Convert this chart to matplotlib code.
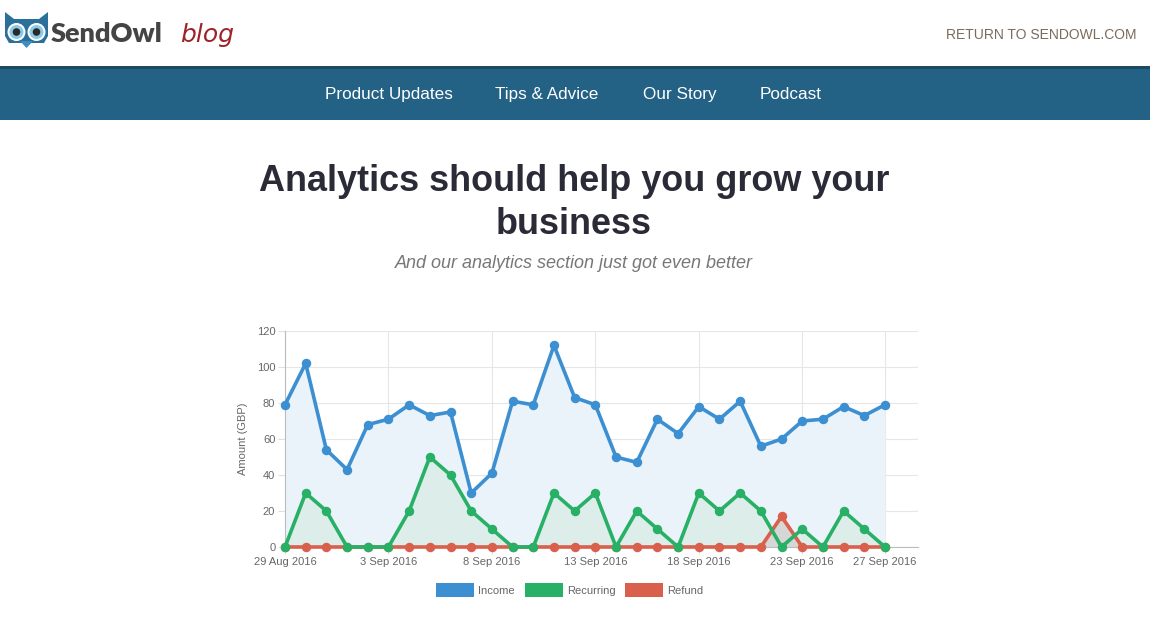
import matplotlib
matplotlib.use("Agg")
import matplotlib.pyplot as plt
from matplotlib.patches import Rectangle, Polygon, Circle

# ---------------- data ----------------
tick_labels = ["29 Aug 2016", "3 Sep 2016", "8 Sep 2016", "13 Sep 2016",
               "18 Sep 2016", "23 Sep 2016", "27 Sep 2016"]
tick_days = [0, 5, 10, 15, 20, 25, 29]
income = [79, 102, 54, 43, 68, 71, 79, 73, 75, 30, 41, 81, 79, 112, 83,
          79, 50, 47, 71, 63, 78, 71, 81, 56, 60, 70, 71, 78, 73, 79]
recurring = [0, 30, 20, 0, 0, 0, 20, 50, 40, 20, 10, 0, 0, 30, 20,
             30, 0, 20, 10, 0, 30, 20, 30, 20, 0, 10, 0, 20, 10, 0]
refund = [0, 0, 0, 0, 0, 0, 0, 0, 0, 0, 0, 0, 0, 0, 0,
          0, 0, 0, 0, 0, 0, 0, 0, 0, 17, 0, 0, 0, 0, 0]
series_names = ["Income", "Recurring", "Refund"]
y_ticks = [0, 20, 40, 60, 80, 100, 120]

W, H = 1150, 618
fig = plt.figure(figsize=(W / 100, H / 100), dpi=100)
fig.patch.set_facecolor("white")

# page background axes in pixel coords
bg = fig.add_axes([0, 0, 1, 1])
bg.set_xlim(0, W)
bg.set_ylim(H, 0)
bg.axis("off")

# nav bar
bg.add_patch(Rectangle((0, 66), W, 54, facecolor="#236185", edgecolor="none"))
bg.add_patch(Rectangle((0, 66), W, 2.5, facecolor="#1b4a62", edgecolor="none"))
nav = [("Product Updates", 389), ("Tips & Advice", 547), ("Our Story", 680), ("Podcast", 791)]
for t, x in nav:
    bg.text(x, 99, t, color="white", fontsize=12.3, family="Liberation Sans",
            ha="center", va="baseline")

# logo owl
owl_c = "#2b6f9b"
bg.add_patch(Polygon([(5, 12), (14, 19), (39, 19), (48, 12), (48, 36), (44, 43),
                      (9, 43), (5, 36)], closed=True, facecolor=owl_c, edgecolor="none"))
bg.add_patch(Polygon([(20, 41), (33, 41), (26.5, 48)], closed=True, facecolor="#3f8cc0", edgecolor="none"))
for cx in (16.5, 36.5):
    bg.add_patch(Circle((cx, 32), 9, facecolor="white", edgecolor="none"))
    bg.add_patch(Circle((cx, 32), 7, facecolor="#8ccbe8", edgecolor="none"))
    bg.add_patch(Circle((cx, 32), 3.8, facecolor="#2a2a2a", edgecolor="none"))
bg.text(51, 42, "SendOwl", color="#444444", fontsize=19.5, fontweight="heavy",
        family="Lato", ha="left", va="baseline")
bg.text(180, 42, "blog", color="#9e2228", fontsize=18, style="italic",
        fontweight="light", family="DejaVu Sans", ha="left", va="baseline")

bg.text(1137, 39, "RETURN TO SENDOWL.COM", color="#7b6b5c", fontsize=10,
        family="Liberation Sans", ha="right", va="baseline")

# titles
bg.text(574, 191, "Analytics should help you grow your", color="#2b2b37",
        fontsize=25.9, fontweight="bold", family="Liberation Sans", ha="center", va="baseline")
bg.text(574, 234, "business", color="#2b2b37",
        fontsize=25.9, fontweight="bold", family="Liberation Sans", ha="center", va="baseline")
bg.text(574, 268, "And our analytics section just got even better", color="#777777",
        fontsize=13, style="italic", family="Liberation Sans", ha="center", va="baseline")

# ---------------- chart ----------------
px_day = 600 / 29.0
left, right, top, bottom = 285, 918, 331, 547
ax = fig.add_axes([left / W, 1 - bottom / H, (right - left) / W, (bottom - top) / H])
ax.set_facecolor("none")
x = list(range(len(income)))
ax.set_xlim(0, (right - left) / px_day)
ax.set_ylim(0, 120)

cols = {"Income": "#3c8fd0", "Recurring": "#27b066", "Refund": "#d9604c"}
fills = {"Income": "#ebf3fa", "Recurring": "#dbece8", "Refund": "#d6d6d6"}
data = {"Income": income, "Recurring": recurring, "Refund": refund}
z = {"Refund": 3, "Recurring": 4, "Income": 5}
fz = {"Income": 1, "Recurring": 1.5, "Refund": 2}
for name in ["Income", "Recurring", "Refund"]:
    ax.fill_between(x, data[name], 0, color=fills[name], zorder=fz[name], lw=0,
                    alpha=0.85 if name == "Recurring" else 1)
for name in ["Refund", "Recurring", "Income"]:
    ax.plot(x, data[name], color=cols[name], lw=2.6, marker="o", ms=5.8,
            zorder=z[name], clip_on=False, solid_joinstyle="round")

ax.set_xticks(tick_days)
ax.set_xticklabels(tick_labels)
ax.set_yticks(y_ticks)
ax.grid(True, color="#e6e6e6", lw=0.8, zorder=0)
ax.set_axisbelow(True)
ax.tick_params(axis="both", length=5, color="#e0e0e0", labelsize=8,
               labelcolor="#666666", pad=2)
for lab in ax.get_xticklabels() + ax.get_yticklabels():
    lab.set_family("Liberation Sans")
for s in ["top", "right"]:
    ax.spines[s].set_visible(False)
ax.spines["left"].set_color("#bbbbbb")
ax.spines["bottom"].set_color("#bbbbbb")
ax.spines["left"].set_linewidth(0.8)
ax.spines["bottom"].set_linewidth(0.8)
ax.set_ylabel("Amount (GBP)", fontsize=8, color="#666666", family="Liberation Sans", labelpad=6)

# legend (custom boxes, pixel coords)
leg = [("Income", 436, 478), ("Recurring", 525, 567), ("Refund", 625, 667)]
for name, bx, tx in leg:
    bg.add_patch(Rectangle((bx, 583), 38, 14, facecolor=cols[name], edgecolor="none"))
    bg.text(tx, 590.5, name, fontsize=8, color="#666666", family="Liberation Sans",
            ha="left", va="center")

fig.savefig("out.png", dpi=100)
